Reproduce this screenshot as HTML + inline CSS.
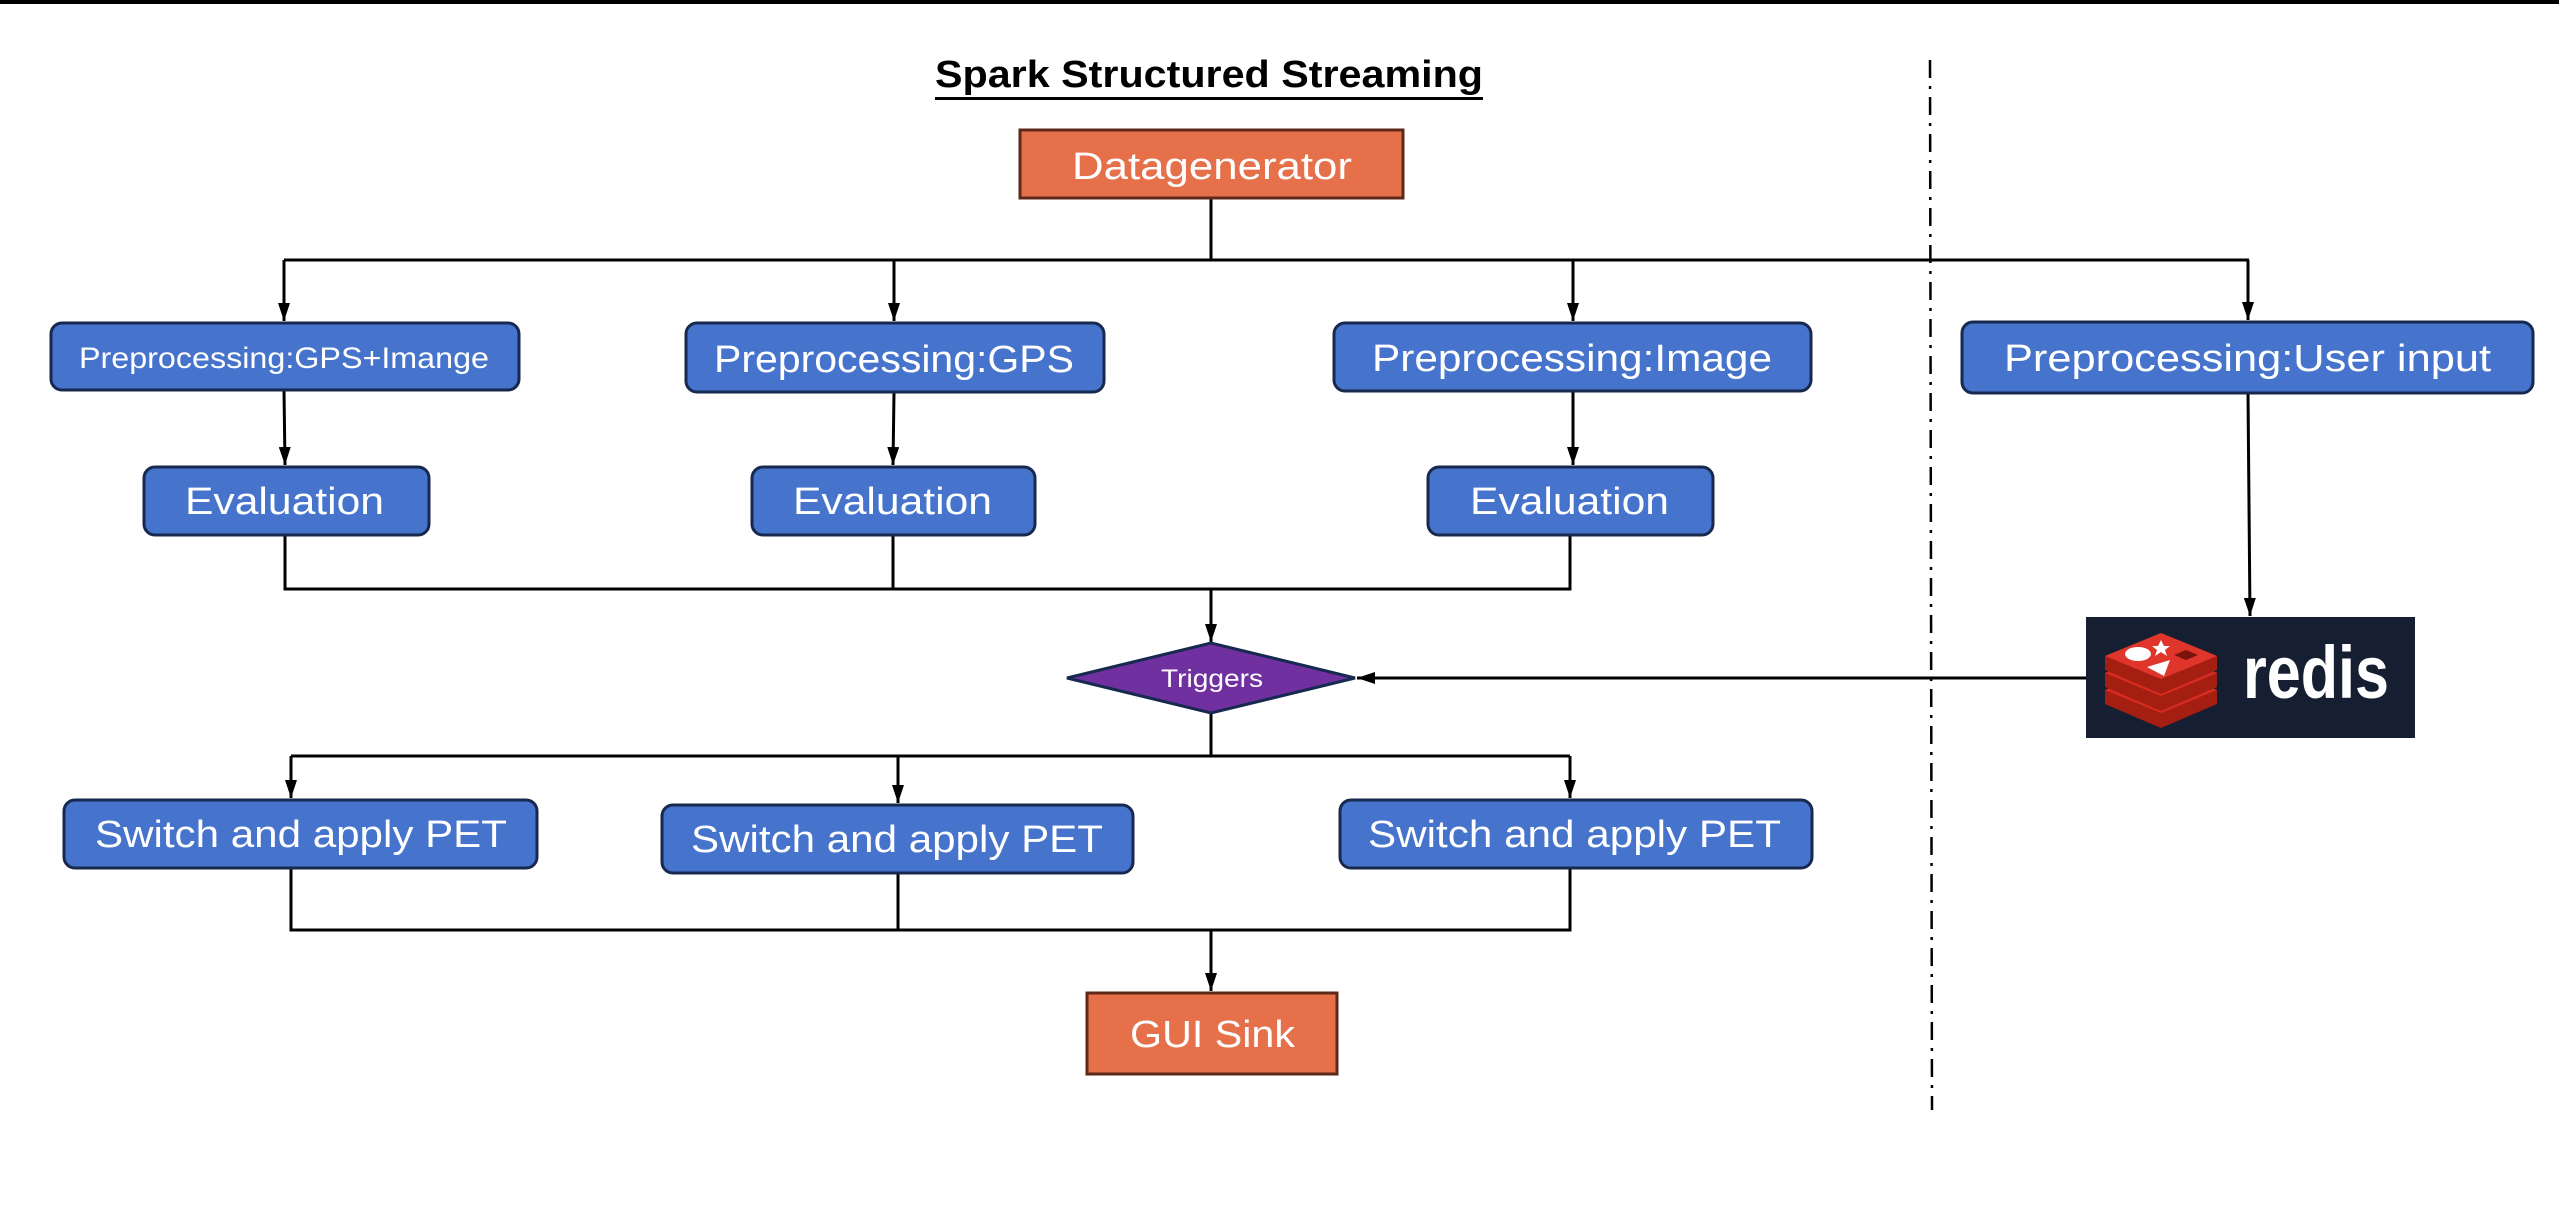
<!DOCTYPE html>
<html><head><meta charset="utf-8"><style>
html,body{margin:0;padding:0;background:#fff;}
svg{display:block;}
text{font-family:"Liberation Sans",sans-serif;}
</style></head><body>
<svg width="2559" height="1215" viewBox="0 0 2559 1215" xmlns="http://www.w3.org/2000/svg">
<defs>
<marker id="ah" markerWidth="18" markerHeight="12" refX="18" refY="6" orient="auto" markerUnits="userSpaceOnUse" viewBox="0 0 18 12">
<path d="M0,0 L18,6 L0,12 Z" fill="#000"/>
</marker>
</defs>
<rect x="0" y="0" width="2559" height="4" fill="#000"/>
<!-- title -->
<text x="935" y="87" font-size="38" font-weight="bold" textLength="548" lengthAdjust="spacingAndGlyphs">Spark Structured Streaming</text>
<rect x="935" y="97" width="548" height="3" fill="#000"/>
<!-- dash-dot separator -->
<line x1="1930" y1="60" x2="1932" y2="1110" stroke="#000" stroke-width="2.5" stroke-dasharray="18,8,3,8"/>
<!-- connectors -->
<g stroke="#000" stroke-width="3" fill="none">
<line x1="1211" y1="199" x2="1211" y2="260"/>
<line x1="284" y1="260" x2="2249" y2="260"/>
<line x1="284" y1="260" x2="284" y2="321" marker-end="url(#ah)"/>
<line x1="894" y1="260" x2="894" y2="321" marker-end="url(#ah)"/>
<line x1="1573" y1="260" x2="1573" y2="321" marker-end="url(#ah)"/>
<line x1="2248" y1="260" x2="2248" y2="320" marker-end="url(#ah)"/>
<line x1="284" y1="390" x2="285" y2="465" marker-end="url(#ah)"/>
<line x1="894" y1="392" x2="893" y2="465" marker-end="url(#ah)"/>
<line x1="1573" y1="391" x2="1573" y2="465" marker-end="url(#ah)"/>
<line x1="2248" y1="393" x2="2250" y2="616" marker-end="url(#ah)"/>
<polyline points="285,535 285,589 1570,589 1570,535"/>
<line x1="893" y1="535" x2="893" y2="589"/>
<line x1="1211" y1="589" x2="1211" y2="642" marker-end="url(#ah)"/>
<line x1="2086" y1="678" x2="1357" y2="678" marker-end="url(#ah)"/>
<line x1="1211" y1="713" x2="1211" y2="756"/>
<line x1="291" y1="756" x2="1570" y2="756"/>
<line x1="291" y1="756" x2="291" y2="798" marker-end="url(#ah)"/>
<line x1="898" y1="756" x2="898" y2="803" marker-end="url(#ah)"/>
<line x1="1570" y1="756" x2="1570" y2="798" marker-end="url(#ah)"/>
<polyline points="291,868 291,930 1570,930 1570,868"/>
<line x1="898" y1="873" x2="898" y2="930"/>
<line x1="1211" y1="930" x2="1211" y2="991" marker-end="url(#ah)"/>
</g>
<!-- orange boxes -->
<rect x="1020" y="130" width="383" height="68" fill="#E5704A" stroke="#5E2A17" stroke-width="3"/>
<text x="1072" y="179" font-size="38" fill="#fff" textLength="280" lengthAdjust="spacingAndGlyphs">Datagenerator</text>
<rect x="1087" y="993" width="250" height="81" fill="#E5704A" stroke="#5E2A17" stroke-width="3"/>
<text x="1130" y="1047" font-size="38" fill="#fff" textLength="165" lengthAdjust="spacingAndGlyphs">GUI Sink</text>
<!-- blue boxes -->
<g fill="#4673CC" stroke="#17294F" stroke-width="3">
<rect x="51" y="323" width="468" height="67" rx="11"/>
<rect x="686" y="323" width="418" height="69" rx="11"/>
<rect x="1334" y="323" width="477" height="68" rx="11"/>
<rect x="1962" y="322" width="571" height="71" rx="11"/>
<rect x="144" y="467" width="285" height="68" rx="11"/>
<rect x="752" y="467" width="283" height="68" rx="11"/>
<rect x="1428" y="467" width="285" height="68" rx="11"/>
<rect x="64" y="800" width="473" height="68" rx="11"/>
<rect x="662" y="805" width="471" height="68" rx="11"/>
<rect x="1340" y="800" width="472" height="68" rx="11"/>
</g>
<g fill="#fff">
<text x="79" y="368" font-size="30" textLength="410" lengthAdjust="spacingAndGlyphs">Preprocessing:GPS+Imange</text>
<text x="714" y="372" font-size="38" textLength="360" lengthAdjust="spacingAndGlyphs">Preprocessing:GPS</text>
<text x="1372" y="371" font-size="38" textLength="400" lengthAdjust="spacingAndGlyphs">Preprocessing:Image</text>
<text x="2004" y="371" font-size="38" textLength="487" lengthAdjust="spacingAndGlyphs">Preprocessing:User input</text>
<text x="185" y="514" font-size="38" textLength="199" lengthAdjust="spacingAndGlyphs">Evaluation</text>
<text x="793" y="514" font-size="38" textLength="199" lengthAdjust="spacingAndGlyphs">Evaluation</text>
<text x="1470" y="514" font-size="38" textLength="199" lengthAdjust="spacingAndGlyphs">Evaluation</text>
<text x="95" y="847" font-size="38" textLength="412" lengthAdjust="spacingAndGlyphs">Switch and apply PET</text>
<text x="691" y="852" font-size="38" textLength="412" lengthAdjust="spacingAndGlyphs">Switch and apply PET</text>
<text x="1368" y="847" font-size="38" textLength="413" lengthAdjust="spacingAndGlyphs">Switch and apply PET</text>
</g>
<!-- diamond -->
<polygon points="1067,678 1211,643 1355,678 1211,713" fill="#7030A0" stroke="#17294F" stroke-width="3"/>
<text x="1161" y="687" font-size="25" fill="#fff" textLength="102" lengthAdjust="spacingAndGlyphs">Triggers</text>
<!-- redis -->
<rect x="2086" y="617" width="329" height="121" fill="#161F31"/>
<g>
<path d="M2105,690 L2161,667 L2217,690 L2217,704 L2161,728 L2105,704 Z" fill="#A41E11"/>
<path d="M2105,690 L2161,667 L2217,690 L2161,713 Z" fill="#D82C20"/>
<path d="M2105,673 L2161,650 L2217,673 L2217,687 L2161,711 L2105,687 Z" fill="#A41E11"/>
<path d="M2105,673 L2161,650 L2217,673 L2161,696 Z" fill="#D82C20"/>
<path d="M2105,656 L2161,633 L2217,656 L2217,670 L2161,694 L2105,670 Z" fill="#A41E11"/>
<path d="M2105,656 L2161,633 L2217,656 L2161,679 Z" fill="#E0352A"/>
<ellipse cx="2138" cy="654" rx="13" ry="7" fill="#fff"/>
<path d="M2147,667 L2170,660 L2164,676 Z" fill="#fff"/>
<path d="M2158,646 L2161,640 L2164,646 L2170,646 L2165,650 L2167,656 L2161,652 L2155,656 L2157,650 L2152,646 Z" fill="#fff"/>
<path d="M2174,655 L2186,650 L2198,655 L2186,660 Z" fill="#7A140C"/>
</g>
<text x="2243" y="698" font-size="74" font-weight="bold" fill="#fff" textLength="146" lengthAdjust="spacingAndGlyphs">redis</text>
</svg>
</body></html>
